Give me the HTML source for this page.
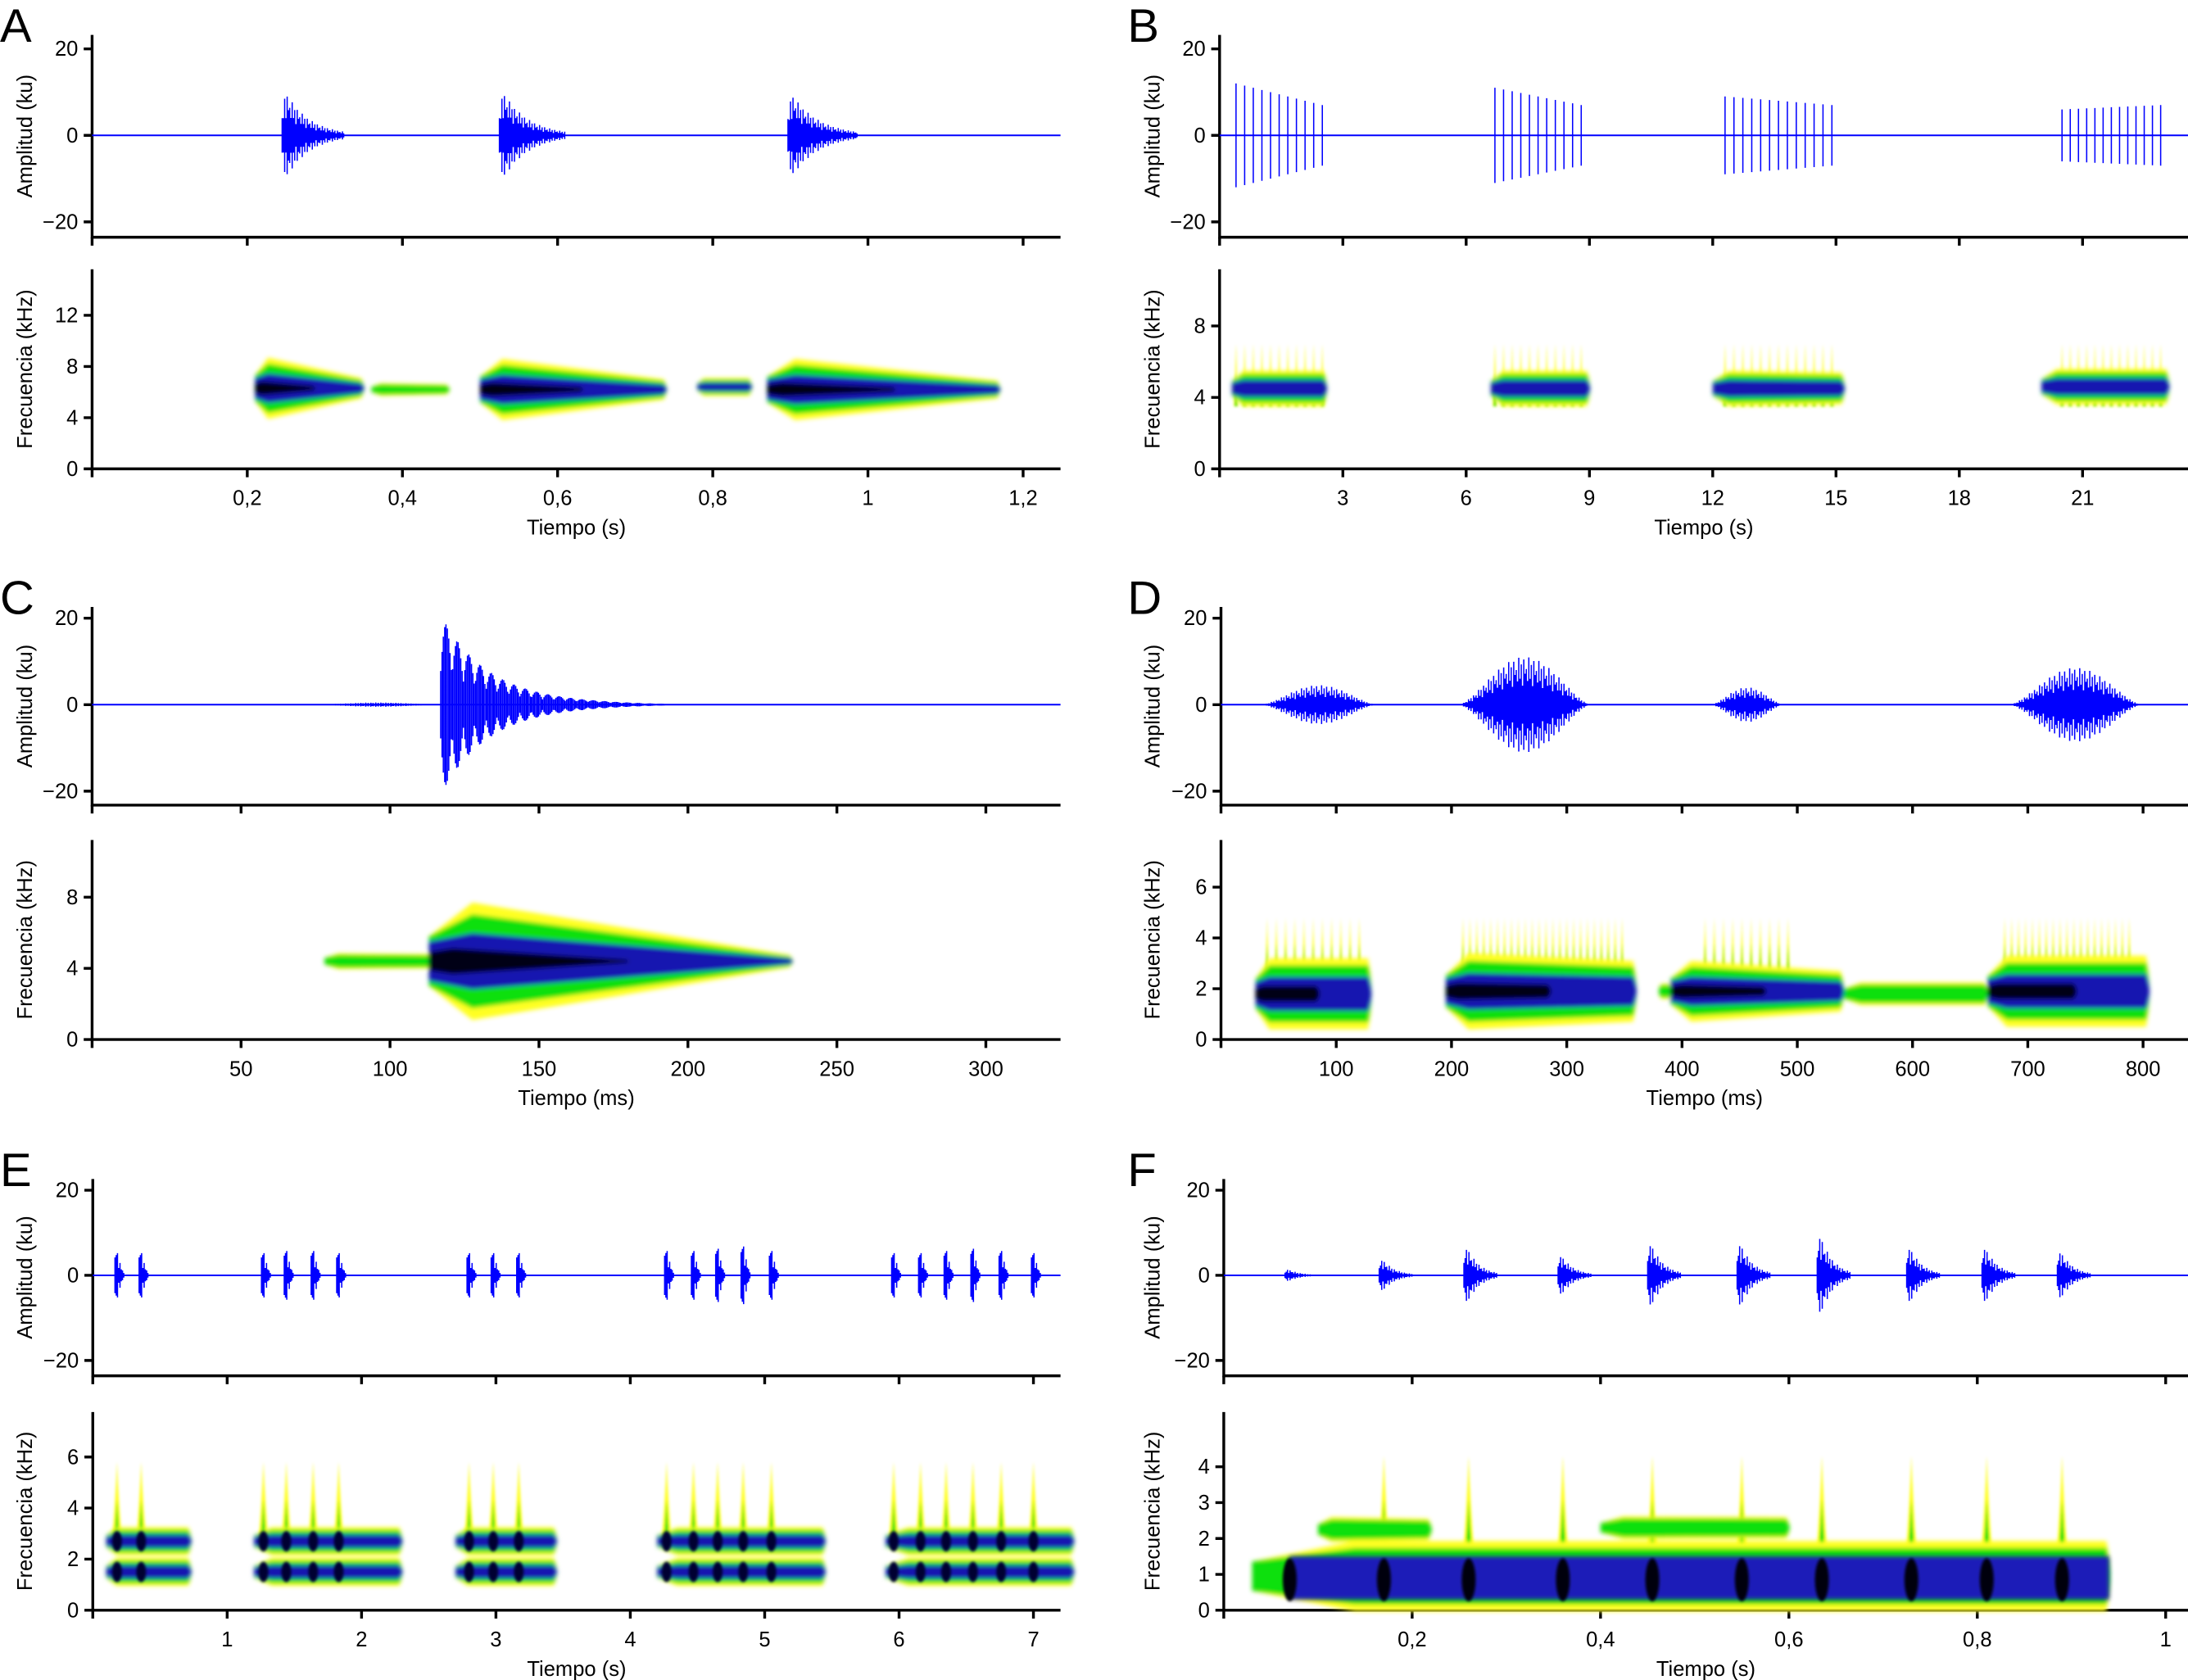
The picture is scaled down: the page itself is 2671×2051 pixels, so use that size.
<!DOCTYPE html>
<html><head><meta charset="utf-8"><style>
html,body{margin:0;padding:0;background:#fff}
svg{display:block}
text{font-family:"Liberation Sans",Arial,sans-serif;fill:#000}
</style></head><body>
<svg id="fig" xmlns="http://www.w3.org/2000/svg" width="2671" height="2051" viewBox="0 0 1568 1204">
<defs>
<filter id="soft" x="-20%" y="-20%" width="140%" height="140%"><feGaussianBlur stdDeviation="1.6"/></filter>
<filter id="soft2" x="-50%" y="-20%" width="200%" height="140%"><feGaussianBlur stdDeviation="1"/></filter>
</defs>
</svg>
<script>
// ---------- data ----------
const ampTicks = [20, 0, -20];
const aXTicks = [0.2, 0.4, 0.6, 0.8, 1, 1.2];
const bXTicks = [3, 6, 9, 12, 15, 18, 21];
const cXTicks = [50, 100, 150, 200, 250, 300];
const dXTicks = [100, 200, 300, 400, 500, 600, 700, 800];
const eXTicks = [1, 2, 3, 4, 5, 6, 7];
const fXTicks = [0.2, 0.4, 0.6, 0.8, 1];
const aYTicks = [0, 4, 8, 12];
const bYTicks = [0, 4, 8];
const cYTicks = [0, 4, 8];
const dYTicks = [0, 2, 4, 6];
const eYTicks = [0, 2, 4, 6];
const fYTicks = [0, 1, 2, 3, 4];
// waveform bursts: [start, duration, amplitude]
const aBursts = [[0.245, 0.08, 9.5], [0.525, 0.085, 9.5], [0.897, 0.09, 9]];
// pulse groups: [start, end, pulses, ampStart, ampEnd]
const bGroups = [[0.4, 2.5, 11, 12, 7], [6.7, 8.8, 11, 11, 7], [12.3, 14.9, 13, 9, 7], [20.5, 22.9, 13, 6, 7]];
// C single call: onset, amplitude, end
const cCall = [117, 20, 195];
// D bursts: [start, end, amplitude]
const dBursts = [[35, 135, 4.5], [206, 321, 11], [425, 488, 4], [684, 799, 8.5]];
// E pulses times and amplitude
const ePulses = [0.18, 0.36, 1.27, 1.44, 1.64, 1.83, 2.80, 2.98, 3.17, 4.27, 4.47, 4.65, 4.84, 5.05, 5.96, 6.16, 6.35, 6.55, 6.76, 7.0];
const eAmps = [10, 10, 10, 11, 11, 10, 10, 10, 10, 11, 11, 12, 13, 11, 10, 10, 11, 12, 11, 10];
// F clicks
const fClicks = [0.07, 0.17, 0.26, 0.36, 0.455, 0.55, 0.635, 0.73, 0.81, 0.89];
const fAmps = [1.5, 4, 7, 5, 8, 8, 10, 7, 7, 6];
// spectrogram blobs: [t0, t1, centerFreq, halfWidthStart, halfWidthEnd, darkness]
const aBlobs = [[0.21, 0.35, 6.3, 2.4, 0.8, 3], [0.36, 0.46, 6.2, 0.5, 0.4, 1], [0.50, 0.74, 6.2, 2.4, 0.8, 3], [0.78, 0.85, 6.4, 0.7, 0.7, 2], [0.87, 1.17, 6.2, 2.4, 0.7, 3]];
const bBlobs = [[0.3, 2.6, 4.5, 1.0, 1.0, 2], [6.6, 9.0, 4.5, 1.0, 1.0, 2], [12.0, 15.2, 4.5, 1.0, 0.9, 2], [20.0, 23.1, 4.6, 1.0, 1.0, 2]];
const cBlobs = [[78, 117, 4.4, 0.45, 0.4, 1], [113, 235, 4.4, 3.3, 0.35, 3]];
const dBlobs = [[30, 130, 1.8, 1.4, 1.4, 3], [195, 360, 1.9, 1.5, 1.2, 3], [380, 395, 1.9, 0.3, 0.3, 1], [390, 540, 1.9, 1.2, 0.8, 3], [540, 665, 1.8, 0.45, 0.45, 1], [665, 805, 1.9, 1.4, 1.4, 3]];
const eBlobs = [[0.1, 0.73, 2.7, 0.55, 0.55, 2], [0.1, 0.73, 1.5, 0.55, 0.55, 2], [1.2, 2.3, 2.7, 0.55, 0.55, 2], [1.2, 2.3, 1.5, 0.55, 0.55, 2], [2.7, 3.45, 2.7, 0.55, 0.55, 2], [2.7, 3.45, 1.5, 0.55, 0.55, 2], [4.2, 5.45, 2.7, 0.55, 0.55, 2], [4.2, 5.45, 1.5, 0.55, 0.55, 2], [5.9, 7.3, 2.7, 0.55, 0.55, 2], [5.9, 7.3, 1.5, 0.55, 0.55, 2]];
const fBlobs = [[0.10, 0.22, 2.25, 0.35, 0.3, 1], [0.40, 0.60, 2.3, 0.32, 0.3, 1], [0.03, 0.94, 0.95, 0.98, 0.98, 1]];

// ---------- layout ----------
const L = {
 A:{x0:66,ux:556,xe:760,wt:25,wz:97,wa:170,ws:3.1,st:193,sz:336,ss:9.17,lx:0,ly:30,tx:18,lab:'Tiempo (s)'},
 B:{x0:874,ux:29.45,xe:1568,wt:25,wz:97,wa:170,ws:3.1,st:193,sz:336,ss:12.8,lx:808,ly:30,tx:826,lab:'Tiempo (s)'},
 C:{x0:66,ux:2.135,xe:760,wt:435,wz:505,wa:577,ws:3.1,st:602,sz:745,ss:12.75,lx:0,ly:440,tx:18,lab:'Tiempo (ms)'},
 D:{x0:875,ux:0.826,xe:1568,wt:435,wz:505,wa:577,ws:3.1,st:602,sz:745,ss:18.2,lx:808,ly:440,tx:826,lab:'Tiempo (ms)'},
 E:{x0:66.5,ux:96.3,xe:760,wt:845,wz:914,wa:986,ws:3.05,st:1012,sz:1154,ss:18.3,lx:0,ly:850,tx:18,lab:'Tiempo (s)'},
 F:{x0:877,ux:675,xe:1568,wt:845,wz:914,wa:986,ws:3.05,st:1012,sz:1154,ss:25.7,lx:808,ly:850,tx:826,lab:'Tiempo (s)'}
};
const svg = document.getElementById('fig');
const NS = 'http://www.w3.org/2000/svg';
function mk(tag, attrs, parent){ const e=document.createElementNS(NS,tag); for(const k in attrs) e.setAttribute(k,attrs[k]); (parent||svg).appendChild(e); return e; }
const X = (p,t)=>p.x0+t*p.ux;
const WY = (p,a)=>p.wz-a*p.ws;
const SY = (p,f)=>p.sz-f*p.ss;
const fmt = v=>String(v).replace('.',',').replace('-','\u2212');
const mod = [1,0.55,0.85,0.4,0.95,0.65,0.75,0.5];

function axes(key, xt, yt){
 const p=L[key];
 const g=mk('g',{});
 
 
 const letter=mk('text',{x:p.lx,y:p.ly,'font-size':34},g); letter.textContent=key;
 
 
 const st={stroke:'#000','stroke-width':2,fill:'none'};
 mk('path',Object.assign({d:`M${p.x0} ${p.wt} V${p.wa} H${p.xe}`},st),g);
 let d='';
 ampTicks.forEach(v=>{const y=WY(p,v); d+=`M${p.x0-6} ${y}H${p.x0}`; const t=mk('text',{x:p.x0-10,y:y+5,'font-size':15,'text-anchor':'end'},g); t.textContent=fmt(v);});
 d+=`M${p.x0} ${p.wa}v6`;
 xt.forEach(v=>{d+=`M${X(p,v)} ${p.wa}v6`;});
 mk('path',Object.assign({d},st),g);
 const at=mk('text',{x:0,y:0,'font-size':15,'text-anchor':'middle',transform:`translate(${p.tx+5},${(p.wt+p.wa)/2}) rotate(-90)`},g); at.textContent='Amplitud (ku)';
 
 
 mk('path',Object.assign({d:`M${p.x0} ${p.st} V${p.sz} H${p.xe}`},st),g);
 d='';
 yt.forEach(v=>{const y=SY(p,v); d+=`M${p.x0-6} ${y}H${p.x0}`; const t=mk('text',{x:p.x0-10,y:y+5,'font-size':15,'text-anchor':'end'},g); t.textContent=fmt(v);});
 d+=`M${p.x0} ${p.sz}v6`;
 xt.forEach(v=>{const x=X(p,v); d+=`M${x} ${p.sz}v6`; const t=mk('text',{x:x,y:p.sz+26,'font-size':15,'text-anchor':'middle'},g); t.textContent=fmt(v);});
 mk('path',Object.assign({d},st),g);
 const ft=mk('text',{x:0,y:0,'font-size':15,'text-anchor':'middle',transform:`translate(${p.tx+5},${(p.st+p.sz)/2}) rotate(-90)`},g); ft.textContent='Frecuencia (kHz)';
 
 
 const xl=mk('text',{x:(p.x0+p.xe)/2,y:p.sz+47,'font-size':15,'text-anchor':'middle'},g); xl.textContent=p.lab;
 
 
 mk('path',{d:`M${p.x0} ${p.wz}H${p.xe}`,stroke:'#0000ff','stroke-width':1.2},g);
}

function wavePath(key, segs){
 const w=mk('path',{d:segs,stroke:'#0000ff','stroke-width':0.9,fill:'none'});
 
 
}
function decayBurst(p, t0, dur, amp){
 let d=''; const x0=X(p,t0), x1=X(p,t0+dur); let i=0;
 for(let x=x0;x<=x1;x+=0.9,i++){ const r=(x-x0)/(x1-x0); const env=amp*1.05*Math.exp(-2.6*Math.max(0,r-0.06))*Math.min(1,r*16+0.4)*mod[i%8];
  d+=`M${x.toFixed(1)} ${WY(p,env)}V${WY(p,-env)}`; }
 return d;
}
function symBurst(p, t0, t1, amp){
 let d=''; const x0=X(p,t0), x1=X(p,t1); let i=0;
 for(let x=x0;x<=x1;x+=0.9,i++){ const r=(x-x0)/(x1-x0); const env=amp*Math.pow(Math.sin(Math.PI*r),1.5)*mod[i%8];
  d+=`M${x.toFixed(1)} ${WY(p,env)}V${WY(p,-env)}`; }
 return d;
}

function taper(p,t0,t1,fc,hs,he,k){
 const x0=X(p,t0), x1=X(p,t1), xm=x0+(x1-x0)*0.12, yc=SY(p,fc);
 const a=hs*k*p.ss, b=he*k*p.ss, s=Math.min(a,hs*p.ss*0.6);
 return `M${x0} ${yc-s*0.7} L${xm} ${yc-a} L${x1-2} ${yc-b} Q${x1+3} ${yc} ${x1-2} ${yc+b} L${xm} ${yc+a} L${x0} ${yc+s*0.7} Z`;
}
function blobs(key, arr){
 const p=L[key];
 const g=mk('g',{filter:'url(#soft)'});
 
 
 const layers=[['#ffff20',1.0,0],['#10e010',0.8,0],['#1818b0',0.48,2],['#000018',0.22,3]];
 layers.forEach(([c,k,min])=>{
  arr.forEach(b=>{ if(b[5]<min) return;
   let t1=b[1]; if(min===3) t1=b[0]+(b[1]-b[0])*0.55;
   mk('path',{d:taper(p,b[0],t1,b[2],b[3],b[4],k),fill:c},g); });
 });
 return g;
}
function spikes(key, times, f0, f1, wpx){
 const p=L[key];
 const g=mk('g',{filter:'url(#soft2)'});
 
 
 times.forEach(t=>{ const x=X(p,t), y0=SY(p,f0), y1=SY(p,f1);
  mk('path',{d:`M${x-wpx} ${y0} Q${x-wpx*0.3} ${(y0+y1)/2} ${x} ${y1} Q${x+wpx*0.3} ${(y0+y1)/2} ${x+wpx} ${y0} Z`,fill:'#ffff20'},g);
  const y2=SY(p,f0+(f1-f0)*0.55);
  mk('path',{d:`M${x-wpx*0.6} ${y0} Q${x-wpx*0.2} ${(y0+y2)/2} ${x} ${y2} Q${x+wpx*0.2} ${(y0+y2)/2} ${x+wpx*0.6} ${y0} Z`,fill:'#10e010'},g);
 });
}
function cores(key, times, f0, f1, wpx, color){
 const p=L[key];
 const g=mk('g',{filter:'url(#soft2)'});
 
 
 times.forEach(t=>{ const x=X(p,t);
  mk('ellipse',{cx:x,cy:(SY(p,f0)+SY(p,f1))/2,rx:wpx,ry:Math.abs(SY(p,f0)-SY(p,f1))/2,fill:color},g); });
}

axes('A',aXTicks,aYTicks); axes('B',bXTicks,bYTicks); axes('C',cXTicks,cYTicks);
axes('D',dXTicks,dYTicks); axes('E',eXTicks,eYTicks); axes('F',fXTicks,fYTicks);

wavePath('A', aBursts.map(b=>decayBurst(L.A,b[0],b[1],b[2])).join(''));
blobs('A', aBlobs);
(function(){ const p=L.B; let d='';
 bGroups.forEach(g=>{ for(let i=0;i<g[2];i++){ const t=g[0]+(g[1]-g[0])*i/(g[2]-1); const a=g[3]+(g[4]-g[3])*i/(g[2]-1);
   d+=`M${X(p,t)} ${WY(p,a)}V${WY(p,-a)}`; } });
 wavePath('B', d);
 spikes('B', bGroups.flatMap(g=>Array.from({length:g[2]},(_,i)=>g[0]+(g[1]-g[0])*i/(g[2]-1))), 3.5, 7, 1.6);
 blobs('B', bBlobs);
})();
(function(){ const p=L.C; let d=''; const t0=cCall[0], A=cCall[1], te=cCall[2]; let i=0;
 d+=symBurst(p,75,t0,0.5);
 for(let t=t0;t<=te;t+=0.45,i++){ const r=(t-t0)/(te-t0); const lobe=Math.abs(Math.sin((t-t0)/3.8*Math.PI));
   const env=A*Math.exp(-5*r)*(0.35+0.65*lobe)+0.8*(1-r); d+=`M${X(p,t).toFixed(1)} ${WY(p,env)}V${WY(p,-env)}`; }
 wavePath('C', d);
 blobs('C', cBlobs);
})();
wavePath('D', dBursts.map(b=>symBurst(L.D,b[0],b[1],b[2])).join(''));
(function(){ const ts=[]; for(let t=210;t<350;t+=6) ts.push(t); for(let t=680;t<790;t+=6) ts.push(t); for(let t=40;t<125;t+=8) ts.push(t); for(let t=420;t<500;t+=8) ts.push(t);
 spikes('D', ts, 2.5, 4.8, 1.5); })();
blobs('D', dBlobs);
(function(){ const p=L.E; let d='';
 ePulses.forEach((t,i)=>{ d+=decayBurst(p,t-0.015,0.07,eAmps[i]); });
 wavePath('E', d);
 spikes('E', ePulses, 2.5, 5.8, 4);
 blobs('E', eBlobs);
 cores('E', ePulses, 2.3, 3.1, 3.5, '#000030');
 cores('E', ePulses, 1.1, 1.9, 3.5, '#000030');
})();
(function(){ const p=L.F; let d='';
 fClicks.forEach((t,i)=>{ d+=decayBurst(p,t-0.005,0.035,fAmps[i]); });
 wavePath('F', d);
 spikes('F', fClicks.slice(1), 1.6, 4.3, 4);
 blobs('F', fBlobs);
 const g=mk('g',{filter:'url(#soft)'});
 
 
 mk('rect',{x:X(p,0.07),y:SY(p,1.5),width:X(p,0.94)-X(p,0.07),height:SY(p,0.3)-SY(p,1.5),fill:'#1a1ab8'},g);
 cores('F', fClicks, 0.25, 1.45, 5, '#000010');
})();
</script>
</body></html>
